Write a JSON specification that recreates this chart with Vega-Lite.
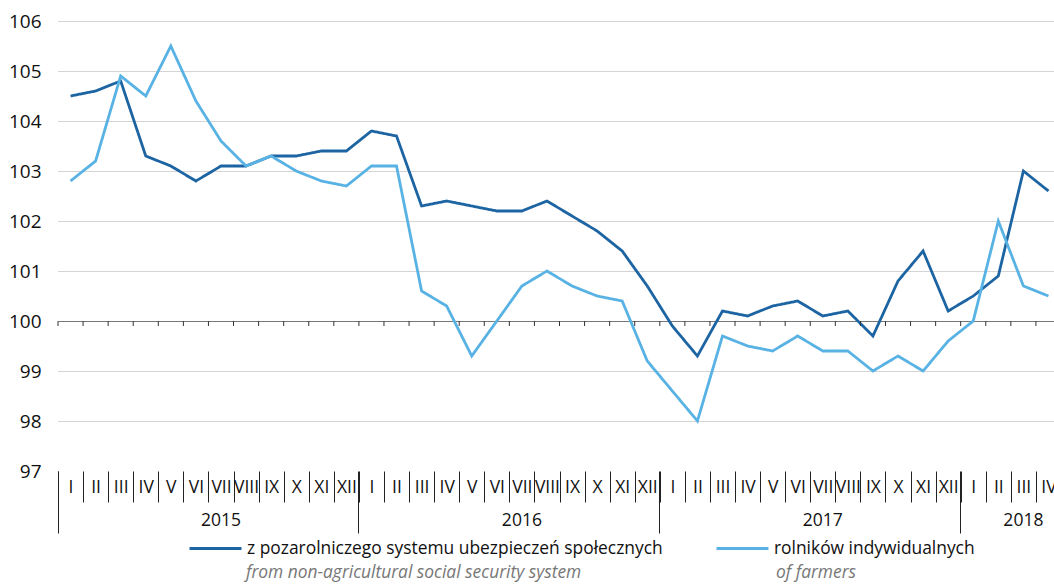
{
  "$schema": "https://vega.github.io/schema/vega-lite/v6.json",
  "width": 1003,
  "height": 450,
  "autosize": {"type": "none"},
  "padding": {"left": 58, "top": 21, "right": -7, "bottom": 114},
  "background": "white",
  "config": {"view": {"stroke": null}, "font": "Open Sans"},
  "datasets": {
    "names": [
      {"key": "a", "s": "z pozarolniczego systemu ubezpieczeń społecznych", "en": "from non-agricultural social security system"},
      {"key": "b", "s": "rolników indywidualnych", "en": "of farmers"}
    ],
    "months": [
      {"m": "2015-I", "a": 104.5, "b": 102.8},
      {"m": "2015-II", "a": 104.6, "b": 103.2},
      {"m": "2015-III", "a": 104.8, "b": 104.9},
      {"m": "2015-IV", "a": 103.3, "b": 104.5},
      {"m": "2015-V", "a": 103.1, "b": 105.5},
      {"m": "2015-VI", "a": 102.8, "b": 104.4},
      {"m": "2015-VII", "a": 103.1, "b": 103.6},
      {"m": "2015-VIII", "a": 103.1, "b": 103.1},
      {"m": "2015-IX", "a": 103.3, "b": 103.3},
      {"m": "2015-X", "a": 103.3, "b": 103.0},
      {"m": "2015-XI", "a": 103.4, "b": 102.8},
      {"m": "2015-XII", "a": 103.4, "b": 102.7},
      {"m": "2016-I", "a": 103.8, "b": 103.1},
      {"m": "2016-II", "a": 103.7, "b": 103.1},
      {"m": "2016-III", "a": 102.3, "b": 100.6},
      {"m": "2016-IV", "a": 102.4, "b": 100.3},
      {"m": "2016-V", "a": 102.3, "b": 99.3},
      {"m": "2016-VI", "a": 102.2, "b": 100.0},
      {"m": "2016-VII", "a": 102.2, "b": 100.7},
      {"m": "2016-VIII", "a": 102.4, "b": 101.0},
      {"m": "2016-IX", "a": 102.1, "b": 100.7},
      {"m": "2016-X", "a": 101.8, "b": 100.5},
      {"m": "2016-XI", "a": 101.4, "b": 100.4},
      {"m": "2016-XII", "a": 100.7, "b": 99.2},
      {"m": "2017-I", "a": 99.9, "b": 98.6},
      {"m": "2017-II", "a": 99.3, "b": 98.0},
      {"m": "2017-III", "a": 100.2, "b": 99.7},
      {"m": "2017-IV", "a": 100.1, "b": 99.5},
      {"m": "2017-V", "a": 100.3, "b": 99.4},
      {"m": "2017-VI", "a": 100.4, "b": 99.7},
      {"m": "2017-VII", "a": 100.1, "b": 99.4},
      {"m": "2017-VIII", "a": 100.2, "b": 99.4},
      {"m": "2017-IX", "a": 99.7, "b": 99.0},
      {"m": "2017-X", "a": 100.8, "b": 99.3},
      {"m": "2017-XI", "a": 101.4, "b": 99.0},
      {"m": "2017-XII", "a": 100.2, "b": 99.6},
      {"m": "2018-I", "a": 100.5, "b": 100.0},
      {"m": "2018-II", "a": 100.9, "b": 102.0},
      {"m": "2018-III", "a": 103.0, "b": 100.7},
      {"m": "2018-IV", "a": 102.6, "b": 100.5}
    ]
  },
  "resolve": {"axis": {"x": "independent"}},
  "layer": [
    {
      "data": {"name": "months"},
      "transform": [
        {"fold": ["a", "b"], "as": ["key", "v"]},
        {"lookup": "key", "from": {"data": {"name": "names"}, "key": "key", "fields": ["s", "en"]}}
      ],
      "mark": {"type": "line", "strokeWidth": 2.8},
      "encoding": {
        "x": {
          "field": "m", "type": "ordinal", "sort": null,
          "scale": {"paddingInner": 0, "paddingOuter": 0},
          "axis": {
            "orient": "bottom", "title": null, "domain": false, "grid": false,
            "tickBand": "extent", "tickSize": 31, "tickColor": "#222", "tickWidth": 1,
            "labelExpr": "split(datum.value, '-')[1]", "labelAngle": 0, "labelOverlap": false,
            "labelBaseline": "middle", "labelPadding": -15, "labelFontSize": 17.5, "labelColor": "#111"
          }
        },
        "y": {
          "field": "v", "type": "quantitative",
          "scale": {"domain": [97, 106], "nice": false, "zero": false},
          "axis": {
            "title": null, "values": [97, 98, 99, 100, 101, 102, 103, 104, 105, 106],
            "domain": false, "ticks": false, "labelPadding": 17, "labelFontSize": 19, "labelColor": "#111",
            "gridWidth": 1,
            "gridColor": {"condition": {"test": "datum.value === 100", "value": "#777"}, "value": "#a8a8a8"},
            "gridDash": {"condition": {"test": "datum.value === 100", "value": []}, "value": [1, 1]},
            "gridOpacity": {"condition": {"test": "datum.value === 97", "value": 0}, "value": 1}
          }
        },
        "color": {
          "field": "s", "type": "nominal",
          "scale": {"domain": ["z pozarolniczego systemu ubezpieczeń społecznych", "rolników indywidualnych"], "range": ["#1c64a2", "#58b2e4"]},
          "legend": {
            "orient": "none", "legendX": 130, "legendY": 500, "direction": "horizontal", "columns": 2,
            "title": null, "symbolType": "stroke", "symbolSize": 2700, "symbolStrokeWidth": 3,
            "labelFontSize": 17.4, "labelColor": "#111", "labelOffset": 4, "labelLimit": 700, "columnPadding": 47
          }
        },
        "strokeDash": {
          "field": "en", "type": "nominal",
          "scale": {"domain": ["from non-agricultural social security system", "of farmers"], "range": [[1, 0], [1, 0]]},
          "legend": {
            "orient": "none", "legendX": 130, "legendY": 525, "direction": "horizontal", "columns": 2,
            "title": null, "symbolType": "stroke", "symbolSize": 2700, "symbolOpacity": 0, "symbolStrokeColor": "transparent",
            "labelFontSize": 17.4, "labelFontStyle": "italic", "labelColor": "#777", "labelOffset": 4, "labelLimit": 700, "columnPadding": 136
          }
        }
      }
    },
    {
      "data": {"name": "months"},
      "mark": {"type": "rule", "color": "#333", "strokeWidth": 1},
      "encoding": {
        "x": {
          "field": "m", "type": "ordinal", "sort": null, "bandPosition": 0,
          "axis": {
            "orient": "bottom", "title": null, "domain": false, "grid": false, "bandPosition": 0,
            "values": ["2015-I", "2015-VII", "2016-I", "2016-VII", "2017-I", "2017-VII", "2018-I", "2018-III"],
            "tickSize": 62, "tickColor": "#222", "tickWidth": 1,
            "tickOpacity": {"condition": {"test": "split(datum.value, '-')[1] !== 'I'", "value": 0}, "value": 1},
            "labelExpr": "split(datum.value, '-')[1] === 'I' ? '' : split(datum.value, '-')[0]",
            "labelAngle": 0, "labelOverlap": false, "labelBaseline": "middle", "labelPadding": -13,
            "labelFontSize": 17.5, "labelColor": "#111"
          }
        },
        "y": {"datum": 100, "type": "quantitative"},
        "y2": {"datum": 99.9}
      }
    }
  ]
}
